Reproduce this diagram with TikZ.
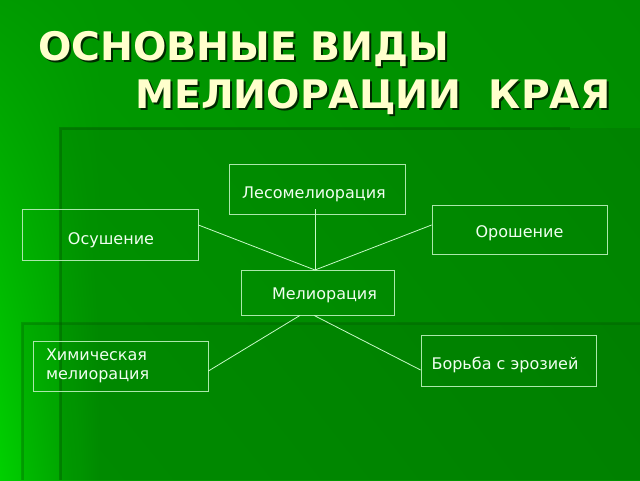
\documentclass[tikz,border=0pt]{standalone}
\usepackage{fontspec}
\usetikzlibrary{shadings}
\setmainfont{DejaVu Sans}
\newfontfamily\titlefont{DejaVu Sans}
\definecolor{bgA}{RGB}{0,155,0}
\definecolor{bgB}{RGB}{0,208,0}
\definecolor{bgC}{RGB}{0,150,0}
\definecolor{bgD}{RGB}{0,158,0}
\definecolor{bgE}{RGB}{0,140,0}
\definecolor{bgF}{RGB}{0,147,0}
\definecolor{edgedark}{RGB}{0,85,0}
\definecolor{boxline}{RGB}{170,232,170}
\definecolor{linkline}{RGB}{200,250,200}
\definecolor{boxtext}{RGB}{240,255,240}
\definecolor{titlecol}{RGB}{255,255,204}
\definecolor{titleshadowcol}{RGB}{0,40,0}
\tikzset{
  box/.style={draw=boxline, line width=0.8pt, minimum width=175pt, minimum height=50pt,
    inner sep=0pt, text=boxtext, font=\fontsize{16}{19}\selectfont},
  tpos/.style={text height=#1, text depth=0pt},
  link/.style={draw=linkline, line width=0.8pt},
  titletext/.style={font=\titlefont\bfseries\fontsize{39.3}{44}\selectfont, inner sep=0pt, anchor=base west},
}
\begin{document}
\begin{tikzpicture}[x=1pt,y=-1pt]
\useasboundingbox (0,0) rectangle (640,480);
% background
\shade[upper left=bgA, lower left=bgB, upper right=bgC, lower right=bgD] (0,0) rectangle (100,480);
\shade[upper left=bgC, lower left=bgD, upper right=bgE, lower right=bgF] (100,0) rectangle (640,480);
\fill[black, opacity=0.07] (60,128) rectangle (640,480);
\fill[black, opacity=0.05] (22,323) rectangle (640,480);
\draw[edgedark, opacity=0.4, line width=3pt] (570,128) -- (60,128) -- (60,480);
\draw[edgedark, opacity=0.3, line width=3pt] (640,323) -- (22,323) -- (22,480);
% title
\node[titletext, text=titleshadowcol] (t1s) at (40,62) {ОСНОВНЫЕ ВИДЫ};
\node[titletext, text=titleshadowcol] (t2s) at (137,110) {МЕЛИОРАЦИИ\ \ КРАЯ};
\node[titletext, text=titlecol] (t1) at (38,60) {ОСНОВНЫЕ ВИДЫ};
\node[titletext, text=titlecol] (t2) at (135,108) {МЕЛИОРАЦИИ\ \ КРАЯ};
% boxes
\node[box, minimum width=176pt, tpos=18.8pt] (les) at (317,189) {Лесомелиорация\hspace*{6pt}};
\node[box, minimum width=176pt, minimum height=51pt, tpos=19.8pt] (osu) at (110,234.5) {\hspace*{2pt}Осушение};
\node[box, minimum height=49pt, tpos=15.8pt] (oro) at (519.5,229.5) {Орошение};
\node[box, minimum width=153pt, minimum height=45pt, tpos=13.8pt] (mel) at (317.5,292.5) {\hspace*{14pt}Мелиорация};
\node[box, minimum height=51pt, tpos=17.8pt] (bor) at (508.5,360.5) {Борьба с эрозией\hspace*{7pt}};
\node[box, text width=149pt, align=left, inner xsep=13pt, inner ysep=0pt] (him) at (120.5,366) {Химическая\\мелиорация};
% connectors
\coordinate (hub) at (315,270);
\draw[link] ([xshift=-2pt,yshift=5pt]les.south) -- (hub);
\draw[link] ([yshift=9.5pt]osu.east) -- (hub);
\draw[link] ([yshift=4.5pt]oro.west) -- (hub);
\draw[link] ([xshift=-17.5pt]mel.south) -- ([yshift=-5pt]him.east);
\draw[link] ([xshift=-3.5pt]mel.south) -- ([yshift=-9.5pt]bor.west);
\end{tikzpicture}
\end{document}
